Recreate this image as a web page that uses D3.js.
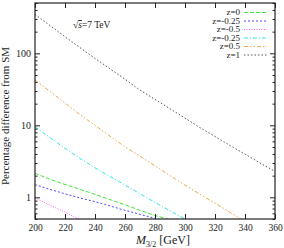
<!DOCTYPE html>
<html>
<head>
<meta charset="utf-8">
<script src="https://cdn.jsdelivr.net/npm/d3@7"></script>
<style>
  body { margin: 0; background: #fff; }
  text { font-family: "Liberation Serif", "DejaVu Serif", serif; fill: #222; }
  .axis path { display: none; }
  .axis line { stroke: #222; }
</style>
</head>
<body>
<script>
'use strict';

// masses (GeV) at which the curves are sampled
var masses = [200, 210, 220, 230, 240, 250, 260, 270, 280, 290, 300, 310, 320, 330, 340, 350, 360];

// percentage difference from SM, one array per curve
var zZero      = [2.16, 1.78, 1.51, 1.29, 1.10, 0.93, 0.79, 0.66, 0.56, 0.49];
var zMinQuarter = [1.50, 1.29, 1.12, 0.98, 0.87, 0.76, 0.66, 0.58, 0.51, 0.46];
var zMinHalf   = [0.98, 0.78, 0.62, 0.49];
var zMinQuarterB = [9.55, 6.76, 4.79, 3.47, 2.57, 1.95, 1.48, 1.12, 0.85, 0.65, 0.50, 0.38];
var zHalf      = [42.7, 29.5, 20.4, 14.1, 10.0, 7.08, 5.01, 3.72, 2.75, 2.00, 1.48, 1.10, 0.83, 0.62, 0.46];
var zOne       = [347, 243, 170, 120, 85, 61, 43.6, 30.9, 22.9, 17.0, 12.6, 9.3, 7.0, 5.25, 3.98, 3.0, 2.29];

var legendLabels = ["z=0", "z=-0.25", "z=-0.5", "z=-0.25", "z=0.5", "z=1"];
var seriesValues = [zZero, zMinQuarter, zMinHalf, zMinQuarterB, zHalf, zOne];
var colors = ["#3de83d", "#4a4aff", "#ff55ff", "#2ee6e6", "#f2a74e", "#555555"];
var dashes = ["4,2", "2,2", "1,1.5", "4,2,1,2", "4,2,1.5,2,1.5,2", "1.5,2"];

var xTicks = [200, 220, 240, 260, 280, 300, 320, 340, 360];
var yTicks = [1, 10, 100];

var _width = 284;
var _height = 248;
var margin = {top: 3, right: 9, bottom: 29, left: 35};
var plotW = _width - margin.left - margin.right;
var plotH = _height - margin.top - margin.bottom;

var _xScale = d3.scaleLinear().domain([200, 360]).range([0, plotW]);
var _yScale = d3.scaleLog().domain([0.5, 500]).range([plotH, 0]);

var minorTicks = [];
[0.1, 1, 10, 100].forEach(function(dec) {
  for (var k = 2; k <= 9; k++) {
    var v = dec * k;
    if (v >= 0.5 && v <= 500) minorTicks.push(v);
  }
});

var svg = d3.select(document.body).append("svg")
    .attr("width", _width)
    .attr("height", _height)
    .attr("xmlns", "http://www.w3.org/2000/svg");

svg.append("defs").append("clipPath").attr("id", "plotClip")
  .append("rect").attr("width", plotW).attr("height", plotH);

var g = svg.append("g")
    .attr("transform", "translate(" + margin.left + "," + margin.top + ")");

// curves
var line = d3.line()
    .x(function(d, i) { return _xScale(masses[i]); })
    .y(function(d) { return _yScale(d); });

var curves = g.append("g").attr("clip-path", "url(#plotClip)");
seriesValues.forEach(function(vals, i) {
  curves.append("path")
      .attr("fill", "none")
      .attr("stroke", colors[i])
      .attr("stroke-width", 1)
      .attr("stroke-dasharray", dashes[i])
      .attr("d", line(vals));
});

// axes with inward ticks
g.append("g").attr("class", "axis")
    .attr("transform", "translate(0," + plotH + ")")
    .call(d3.axisBottom(_xScale).tickValues(xTicks).tickSize(-5).tickPadding(5)
          .tickFormat(d3.format("d")))
    .selectAll("text").style("font-size", "9.5px");

g.append("g").attr("class", "axis")
    .call(d3.axisTop(_xScale).tickValues(xTicks).tickSize(-5).tickFormat(""));

g.append("g").attr("class", "axis")
    .call(d3.axisLeft(_yScale).tickValues(yTicks).tickSize(-5).tickPadding(4)
          .tickFormat(d3.format("d")))
    .selectAll("text").style("font-size", "10px");

g.append("g").attr("class", "axis")
    .call(d3.axisLeft(_yScale).tickValues(minorTicks).tickSize(-2.5).tickFormat(""));

g.append("g").attr("class", "axis")
    .attr("transform", "translate(" + plotW + ",0)")
    .call(d3.axisRight(_yScale).tickValues(yTicks).tickSize(-5).tickFormat(""));

g.append("g").attr("class", "axis")
    .attr("transform", "translate(" + plotW + ",0)")
    .call(d3.axisRight(_yScale).tickValues(minorTicks).tickSize(-2.5).tickFormat(""));

// frame
g.append("rect")
    .attr("width", plotW)
    .attr("height", plotH)
    .attr("fill", "none")
    .attr("stroke", "#222")
    .attr("stroke-width", 1.2);

// legend
var legend = g.append("g");
legendLabels.forEach(function(lbl, i) {
  var y = 9.5 + i * 8.5;
  legend.append("text")
      .attr("x", 205)
      .attr("y", y)
      .attr("dy", "0.32em")
      .attr("text-anchor", "end")
      .style("font-size", "9px")
      .text(lbl);
  legend.append("line")
      .attr("x1", 209).attr("x2", 232)
      .attr("y1", y).attr("y2", y)
      .attr("stroke", colors[i])
      .attr("stroke-width", 1)
      .attr("stroke-dasharray", dashes[i]);
});

// energy label
var energy = g.append("text")
    .attr("x", 38)
    .attr("y", 25)
    .style("font-size", "9.5px");
energy.append("tspan").text("\u221A");
energy.append("tspan").style("font-style", "italic")
    .style("text-decoration", "overline").text("s");
energy.append("tspan").text("=7 TeV");

// axis titles
var xTitle = svg.append("text")
    .attr("x", margin.left + plotW / 2 + 8)
    .attr("y", 244)
    .attr("text-anchor", "middle")
    .style("font-size", "12px");
xTitle.append("tspan").style("font-style", "italic").text("M");
xTitle.append("tspan").attr("dy", 3).style("font-size", "8px").text("3/2");
xTitle.append("tspan").attr("dy", -3).text(" [GeV]");

svg.append("text")
    .attr("transform", "translate(9," + (margin.top + plotH / 2 + 5) + ") rotate(-90)")
    .attr("text-anchor", "middle")
    .style("font-size", "11px")
    .text("Percentage difference from SM");
</script>
</body>
</html>
